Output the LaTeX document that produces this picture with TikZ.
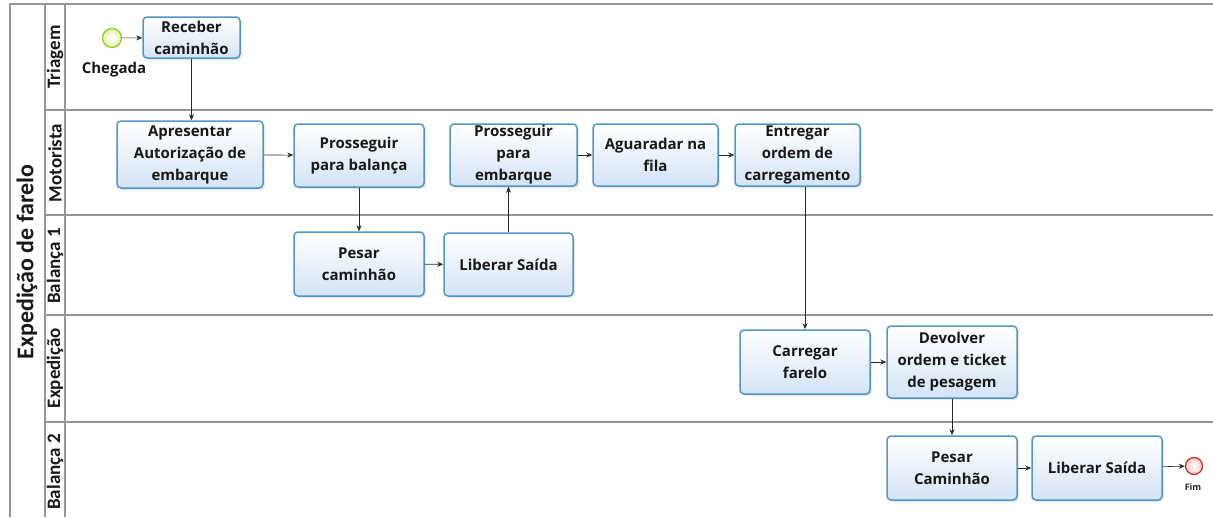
\documentclass[tikz,border=0pt]{standalone}
\usepackage{fontspec}
\setmainfont{Open Sans}
\newfontfamily\lanefont{Carlito}
\usetikzlibrary{shadows,arrows.meta}
\definecolor{boxline}{RGB}{80,152,196}
\definecolor{boxfillb}{RGB}{212,227,245}
\definecolor{laneline}{RGB}{150,150,150}
\definecolor{startline}{RGB}{150,200,40}
\definecolor{startfill}{RGB}{225,245,170}
\definecolor{endline}{RGB}{200,50,50}
\definecolor{endfill}{RGB}{248,200,200}
\definecolor{arrowc}{RGB}{40,40,40}
\tikzset{
  box/.style={draw=boxline, line width=1.5pt, rounded corners=4pt,
    top color=white, bottom color=boxfillb, align=center,
    font=\fontsize{15}{22}\selectfont\bfseries, text=black!90, inner sep=1pt,
    drop shadow={opacity=0.2, shadow xshift=2pt, shadow yshift=-2pt}},
  arr/.style={draw=arrowc, line width=0.6pt, -{Stealth[length=6pt,width=5pt]}},
  lanelab/.style={rotate=90, font=\lanefont\fontsize{19}{21}\selectfont\bfseries, text=black!90},
  poolline/.style={draw=laneline, line width=1.2pt},
  startev/.style={circle, draw=startline, line width=1.3pt, inner color=white, outer color=startfill, minimum size=19pt, inner sep=0pt},
  endev/.style={circle, draw=endline, line width=1.3pt, inner color=white, outer color=endfill, minimum size=17pt, inner sep=0pt},
}
\begin{document}
\begin{tikzpicture}[x=1pt,y=-1pt]
\useasboundingbox (0,0) rectangle (1213,517);
% pool frame
\draw[poolline] (10,517) -- (10,4) -- (1213,4);
\draw[poolline] (45,4) -- (45,517);
\draw[poolline] (65,4) -- (65,517);
\foreach \yy in {110,215,315,422} \draw[poolline] (45,\yy) -- (1213,\yy);
% labels
\node[rotate=90, font=\lanefont\fontsize{24}{26}\selectfont\bfseries, text=black!90] (pool) at (27,262) {Expedição de farelo};
\node[lanelab] (l1) at (55,57) {Triagem};
\node[lanelab] (l2) at (55,163) {Motorista};
\node[lanelab] (l3) at (55,266) {Balança 1};
\node[lanelab] (l4) at (55,368) {Expedição};
\node[lanelab] (l5) at (55,472) {Balança 2};
% events
\node[startev] (start) at (112,38) {};
\node[font=\fontsize{15}{16}\selectfont\bfseries, text=black!90] (chegada) at (114,70) {Chegada};
\node[endev] (fim) at (1194,466) {};
\node[font=\fontsize{9}{10}\selectfont\bfseries, text=black!85] (fimlab) at (1193,487) {Fim};
% tasks
\node[box, minimum width=97pt, minimum height=41pt] (rec) at (191.5,37.5) {Receber\\caminhão};
\node[box, minimum width=146pt, minimum height=67pt] (apr) at (190,154.5) {Apresentar\\Autorização de\\embarque};
\node[box, minimum width=130pt, minimum height=63pt] (pb) at (359,155.5) {Prosseguir\\para balança};
\node[box, minimum width=127pt, minimum height=62pt] (pe) at (513.5,155) {Prosseguir\\para\\embarque};
\node[box, minimum width=125pt, minimum height=62pt] (ag) at (655.5,155) {Aguaradar na\\fila};
\node[box, minimum width=125pt, minimum height=62pt] (ent) at (797.5,155) {Entregar\\ordem de\\carregamento};
\node[box, minimum width=130pt, minimum height=64pt] (pes1) at (359,264) {Pesar\\caminhão};
\node[box, minimum width=129pt, minimum height=63pt] (lib1) at (508.5,264.5) {Liberar Saída};
\node[box, minimum width=130pt, minimum height=64pt] (car) at (805,362) {Carregar\\farelo};
\node[box, minimum width=130pt, minimum height=72pt] (dev) at (952,362) {Devolver\\ordem e ticket\\de pesagem};
\node[box, minimum width=130pt, minimum height=64pt] (pes2) at (952,468) {Pesar\\Caminhão};
\node[box, minimum width=130pt, minimum height=64pt] (lib2) at (1097,468) {Liberar Saída};
% connectors
\draw[arr] (start) -- (rec);
\draw[arr] (rec.south) -- (rec.south |- apr.north);
\draw[arr] (apr) -- (pb);
\draw[arr] (pb) -- (pes1);
\draw[arr] (pes1) -- (lib1);
\draw[arr] (lib1.north) -- (lib1.north |- pe.south);
\draw[arr] (pe) -- (ag);
\draw[arr] (ag) -- (ent);
\draw[arr] (car.north |- ent.south) -- (car.north);
\draw[arr] (car) -- (dev);
\draw[arr] (dev) -- (pes2);
\draw[arr] (pes2) -- (lib2);
\draw[arr] (lib2) -- (fim);
\end{tikzpicture}
\end{document}
